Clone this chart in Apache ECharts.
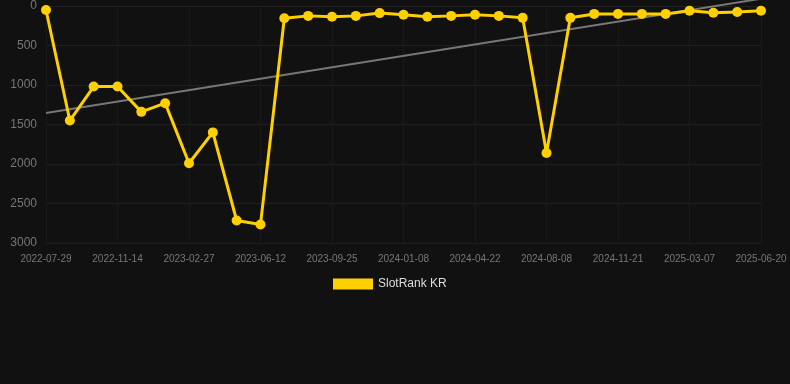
<!DOCTYPE html>
<html>
<head>
<meta charset="utf-8">
<script src="https://cdn.jsdelivr.net/npm/echarts@6/dist/echarts.min.js"></script>
<style>
  html, body { margin: 0; padding: 0; background: #111111; }
  #chart { width: 790px; height: 384px; }
</style>
</head>
<body>
<div id="chart"></div>
<script>
// rank history, inverted axis (lower is better)
const dates = [
  '2022-07-29', '2022-09-03', '2022-10-09', '2022-11-14', '2022-12-19', '2023-01-23',
  '2023-02-27', '2023-04-03', '2023-05-08', '2023-06-12', '2023-07-17', '2023-08-21',
  '2023-09-25', '2023-10-30', '2023-12-04', '2024-01-08', '2024-02-12', '2024-03-18',
  '2024-04-22', '2024-05-28', '2024-07-03', '2024-08-08', '2024-09-12', '2024-10-17',
  '2024-11-21', '2024-12-26', '2025-01-30', '2025-03-07', '2025-04-11', '2025-05-16',
  '2025-06-20'
];
const rankKR = [
  50, 1450, 1020, 1020, 1340, 1230, 1990, 1600, 2715, 2765,
  155, 125, 135, 125, 90, 110, 135, 125, 110, 125,
  150, 1860, 150, 100, 100, 100, 100, 60, 85, 75, 60
];
const trendEnds = [1354, -92];
const yTicks = [0, 3000, 500];

const fontColor = '#777777';
const trend = dates.map((d, i) => i === 0 ? trendEnds[0] : (i === dates.length - 1 ? trendEnds[1] : null));

const chart = echarts.init(document.getElementById('chart'));
chart.setOption({
  backgroundColor: '#111111',
  animation: false,
  grid: {
    left: 46,
    right: 29,
    top: 6,
    bottom: 141
  },
  legend: {
    top: 273,
    left: 328,
    icon: 'rect',
    itemWidth: 40,
    itemHeight: 11,
    itemGap: 10,
    textStyle: { color: '#dddddd', fontSize: 12, fontFamily: 'Liberation Sans, Arial, sans-serif' },
    data: ['SlotRank KR']
  },
  xAxis: {
    type: 'category',
    boundaryGap: false,
    data: dates,
    axisLine: { show: true, lineStyle: { color: '#222222' } },
    axisTick: { show: false },
    axisLabel: {
      interval: 2,
      color: fontColor,
      fontSize: 10,
      margin: 11,
      fontFamily: 'Liberation Sans, Arial, sans-serif'
    },
    splitLine: {
      show: true,
      interval: 2,
      lineStyle: { color: '#191919' }
    }
  },
  yAxis: {
    type: 'value',
    inverse: true,
    min: yTicks[0],
    max: yTicks[1],
    interval: yTicks[2],
    axisLine: { show: false },
    axisTick: { show: false },
    axisLabel: {
      color: fontColor,
      fontSize: 12,
      margin: 9,
      formatter: (v) => String(v),
      fontFamily: 'Liberation Sans, Arial, sans-serif'
    },
    splitLine: { lineStyle: { color: '#1f1f1f' } }
  },
  series: [
    {
      name: 'SlotRank KR',
      type: 'line',
      data: rankKR,
      symbol: 'circle',
      symbolSize: 10,
      z: 3,
      itemStyle: { color: '#ffd000' },
      lineStyle: { color: '#ffd000', width: 3 }
    },
    {
      name: 'trend',
      type: 'line',
      data: trend,
      connectNulls: true,
      clip: false,
      symbol: 'none',
      silent: true,
      z: 2,
      lineStyle: { color: '#777777', width: 2 }
    }
  ]
});
</script>
</body>
</html>
